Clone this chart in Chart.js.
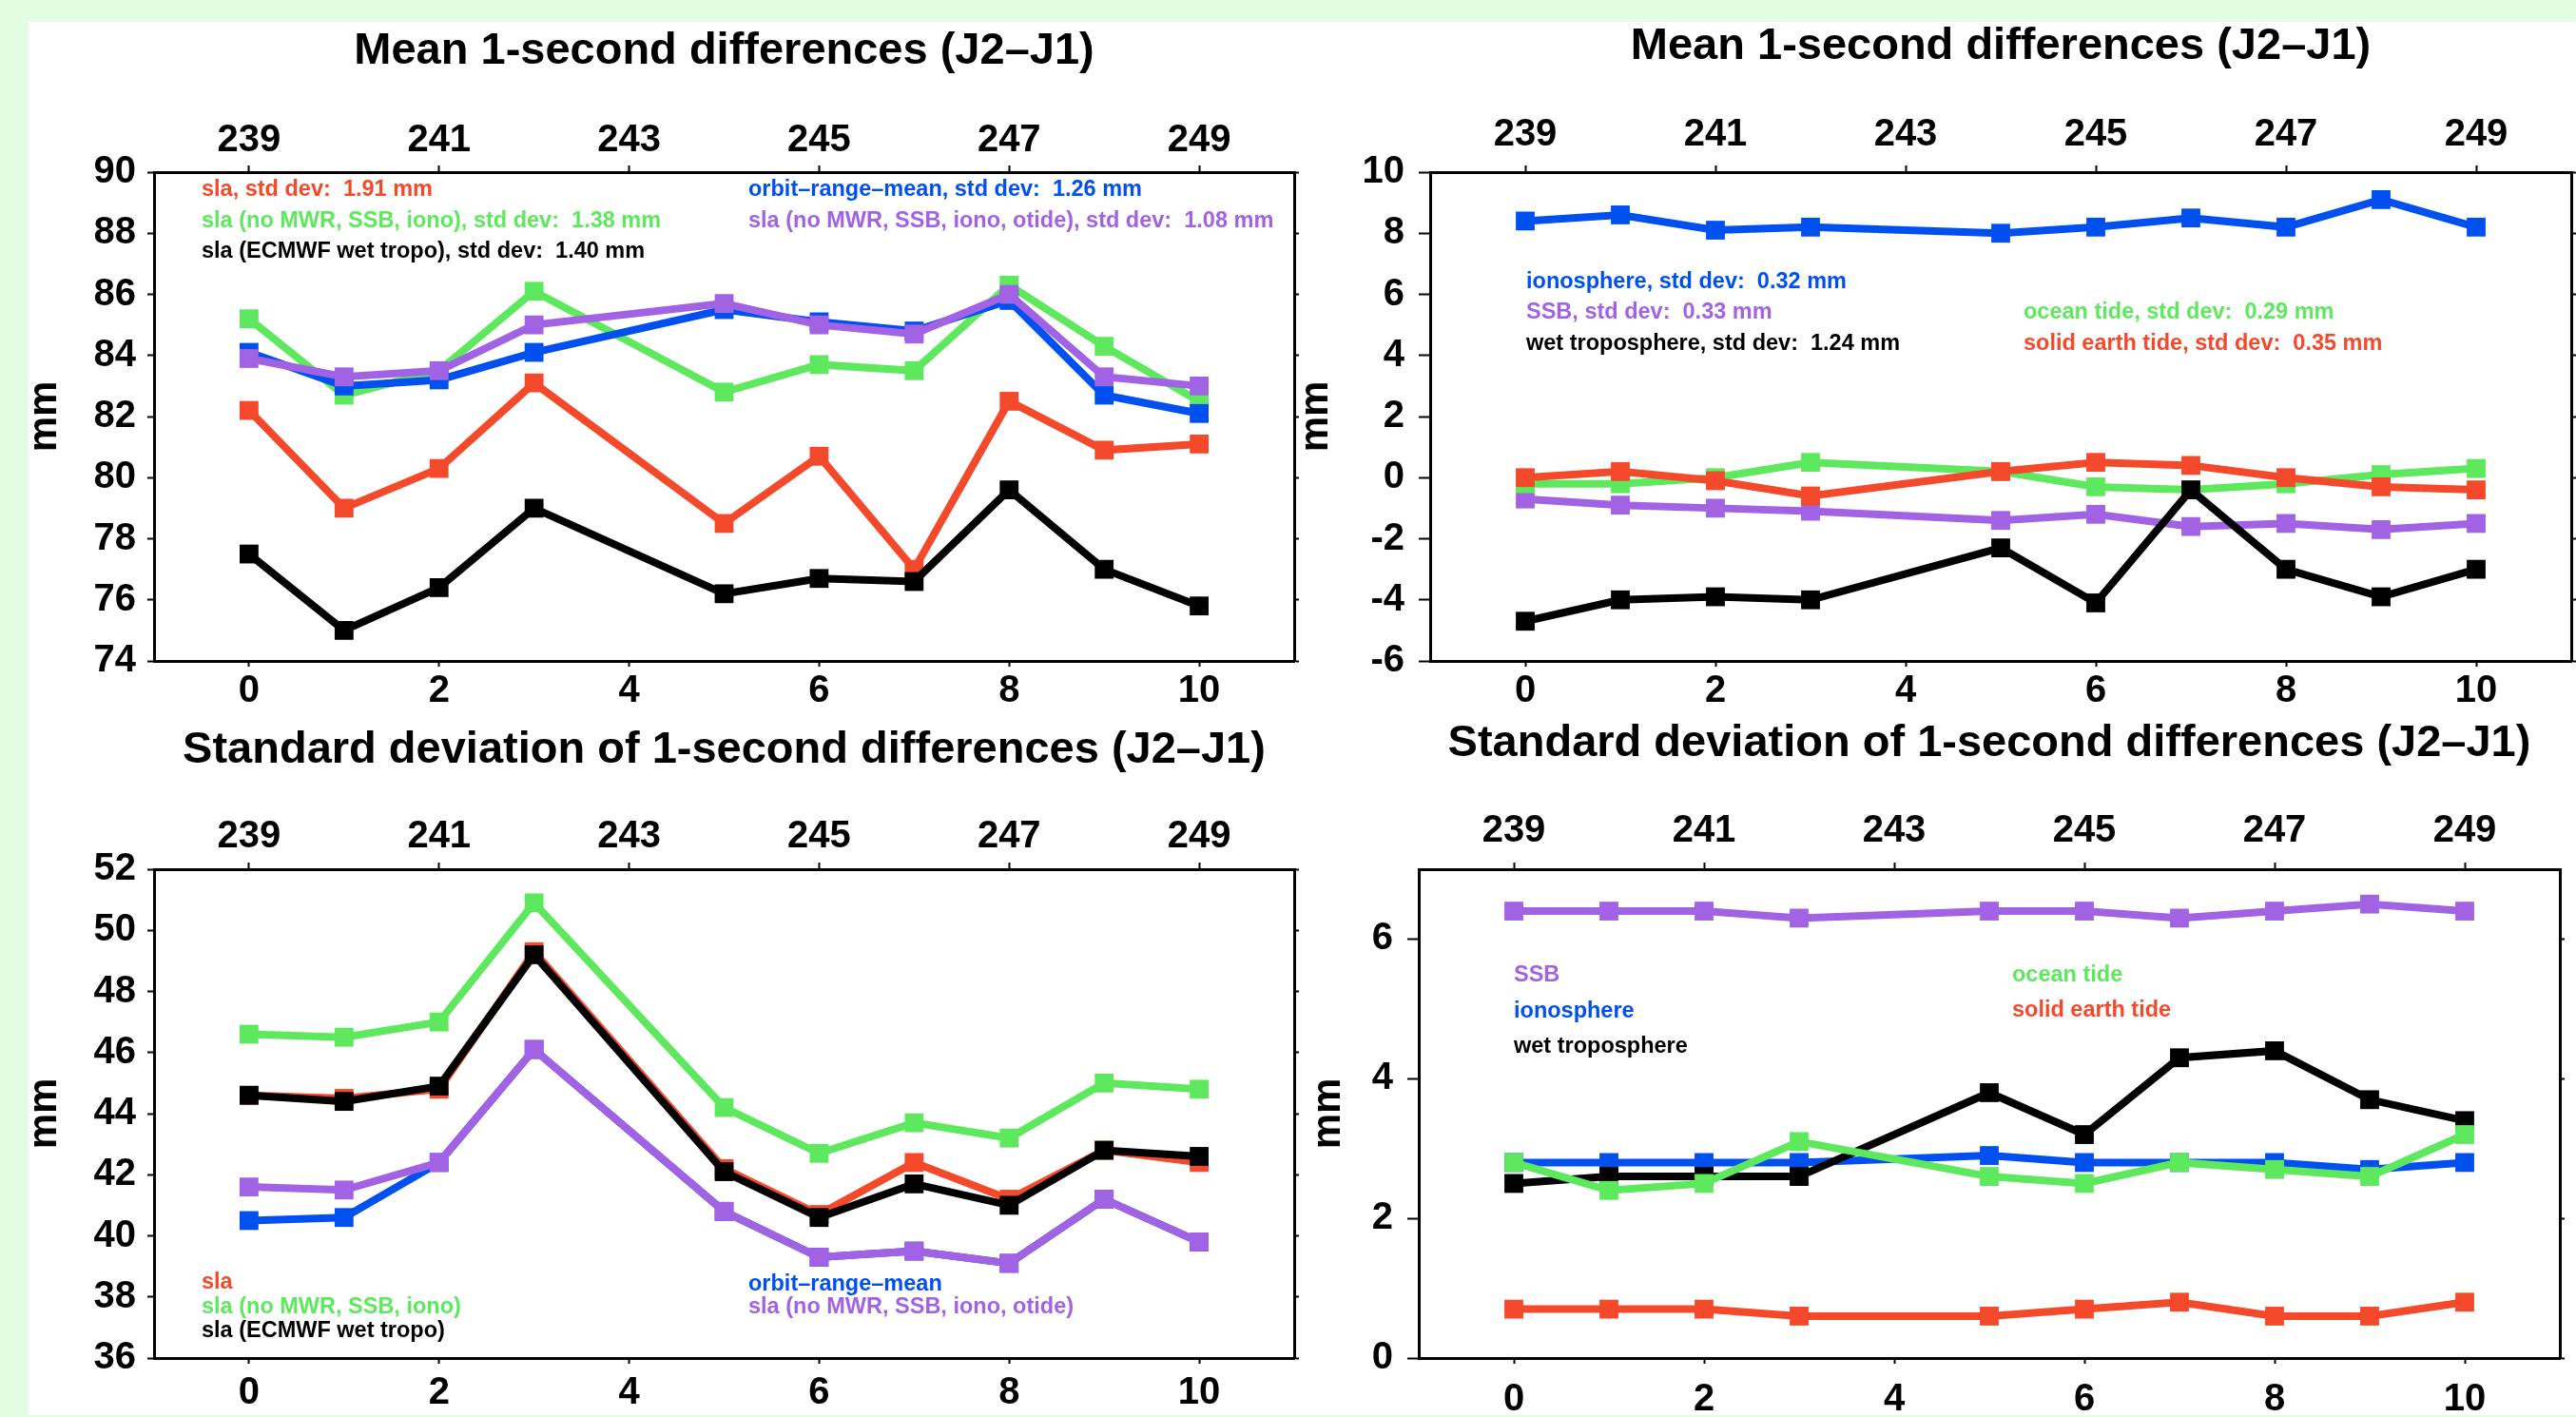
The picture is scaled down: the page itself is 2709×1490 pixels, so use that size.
<!DOCTYPE html>
<html>
<head>
<meta charset="utf-8">
<title>Mean and standard deviation of 1-second differences (J2–J1)</title>
<script src="https://cdn.jsdelivr.net/npm/chart.js@4.4.1/dist/chart.umd.min.js"></script>
<style>
  html, body { margin: 0; padding: 0; }
  body { width: 2709px; height: 1490px; background: #e2fde2; position: relative; overflow: hidden; }
  #sheet { position: absolute; left: 30px; top: 23px; width: 2679px; height: 1465px; background: #fff; }
  canvas { position: absolute; }
</style>
</head>
<body>
<div id="sheet"></div>
<canvas id="meanSla" width="1372" height="745" style="left:0px;top:0px"></canvas>
<canvas id="meanCorr" width="1347" height="745" style="left:1362px;top:0px"></canvas>
<canvas id="stdSla" width="1372" height="745" style="left:0px;top:745px"></canvas>
<canvas id="stdCorr" width="1347" height="745" style="left:1362px;top:745px"></canvas>
<script>
'use strict';

// x positions (cycle index, 243 missing) and the cycle labels of the top axis
const cycleIdx = [0, 1, 2, 3, 5, 6, 7, 8, 9, 10];
const xTickVals = [0, 2, 4, 6, 8, 10];
const cycleTickLabels = ['239', '241', '243', '245', '247', '249'];

// y ticks
const meanSlaTicks = [74, 76, 78, 80, 82, 84, 86, 88, 90];
const meanCorrTicks = [-6, -4, -2, 0, 2, 4, 6, 8, 10];
const stdSlaTicks = [36, 38, 40, 42, 44, 46, 48, 50, 52];
const stdCorrTicks = [0, 2, 4, 6];

// sla series names / std devs
const slaNames = ['sla', 'sla (no MWR, SSB, iono)', 'sla (ECMWF wet tropo)', 'orbit\u2013range\u2013mean', 'sla (no MWR, SSB, iono, otide)'];
const slaMeanStd = ['1.91', '1.38', '1.40', '1.26', '1.08'];

// mean of 1-second differences, mm
const meanSla = [82.2, 79.0, 80.3, 83.1, 78.5, 80.7, 77.0, 82.5, 80.9, 81.1];
const meanSlaNoMwr = [85.2, 82.7, 83.5, 86.1, 82.8, 83.7, 83.5, 86.3, 84.3, 82.5];
const meanSlaEcmwf = [77.5, 75.0, 76.4, 79.0, 76.2, 76.7, 76.6, 79.6, 77.0, 75.8];
const meanOrbit = [84.1, 83.0, 83.2, 84.1, 85.5, 85.1, 84.8, 85.8, 82.7, 82.1];
const meanSlaNoOtide = [83.9, 83.3, 83.5, 85.0, 85.7, 85.0, 84.7, 86.0, 83.3, 83.0];

// corrections, mean
const corrMeanNames = ['ionosphere', 'SSB', 'wet troposphere', 'ocean tide', 'solid earth tide'];
const corrMeanStd = ['0.32', '0.33', '1.24', '0.29', '0.35'];
const meanIono = [8.4, 8.6, 8.1, 8.2, 8.0, 8.2, 8.5, 8.2, 9.1, 8.2];
const meanSsb = [-0.7, -0.9, -1.0, -1.1, -1.4, -1.2, -1.6, -1.5, -1.7, -1.5];
const meanWet = [-4.7, -4.0, -3.9, -4.0, -2.3, -4.1, -0.4, -3.0, -3.9, -3.0];
const meanOcean = [-0.2, -0.2, 0.0, 0.5, 0.2, -0.3, -0.4, -0.2, 0.1, 0.3];
const meanSolid = [0.0, 0.2, -0.1, -0.6, 0.2, 0.5, 0.4, 0.0, -0.3, -0.4];

// standard deviation of 1-second differences, mm
const stdSla = [44.6, 44.5, 44.8, 49.3, 42.2, 40.7, 42.4, 41.2, 42.8, 42.4];
const stdSlaNoMwr = [46.6, 46.5, 47.0, 50.9, 44.2, 42.7, 43.7, 43.2, 45.0, 44.8];
const stdSlaEcmwf = [44.6, 44.4, 44.9, 49.2, 42.1, 40.6, 41.7, 41.0, 42.8, 42.6];
const stdOrbit = [40.5, 40.6, 42.4, 46.1, 40.8, 39.3, 39.5, 39.1, 41.2, 39.8];
const stdSlaNoOtide = [41.6, 41.5, 42.4, 46.1, 40.8, 39.3, 39.5, 39.1, 41.2, 39.8];

// corrections, std
const corrStdNames = ['SSB', 'ionosphere', 'wet troposphere', 'ocean tide', 'solid earth tide'];
const stdSsb = [6.4, 6.4, 6.4, 6.3, 6.4, 6.4, 6.3, 6.4, 6.5, 6.4];
const stdIono = [2.8, 2.8, 2.8, 2.8, 2.9, 2.8, 2.8, 2.8, 2.7, 2.8];
const stdWet = [2.5, 2.6, 2.6, 2.6, 3.8, 3.2, 4.3, 4.4, 3.7, 3.4];
const stdOcean = [2.8, 2.4, 2.5, 3.1, 2.6, 2.5, 2.8, 2.7, 2.6, 3.2];
const stdSolid = [0.7, 0.7, 0.7, 0.6, 0.6, 0.7, 0.8, 0.6, 0.6, 0.8];

const FONT = '"Liberation Sans", Arial, Helvetica, sans-serif';
const RED = '#f4492a';
const GREEN = '#5ee85e';
const BLUE = '#0050f0';
const PURPLE = '#a262e4';
const BLACK = '#000000';

function withStd(names, stds) {
    return names.map((n, i) => n + ', std dev:  ' + stds[i] + ' mm');
}

// title and in-plot labels
const panelText = {
    id: 'panelText',
    afterDraw(chart, args, opts) {
        const c = chart.ctx;
        const a = chart.chartArea;
        c.save();
        c.fillStyle = '#000';
        c.font = 'bold 47px ' + FONT;
        c.textAlign = 'center';
        c.textBaseline = 'alphabetic';
        c.fillText(opts.title, (a.left + a.right) / 2, opts.titleY);
        c.font = 'bold 23.5px ' + FONT;
        c.textAlign = 'left';
        c.textBaseline = 'middle';
        opts.labels.forEach((t, i) => {
            c.fillStyle = opts.colors[i];
            c.fillText(t, a.left + opts.pos[i][0], a.top + opts.pos[i][1]);
        });
        c.restore();
    }
};

function tickFont() {
    return { family: FONT, size: 40, weight: 'bold' };
}

function makeChart(id, p) {
    const canvas = document.getElementById(id);
    const W = canvas.width, H = canvas.height;
    const g = p.box;

    const datasets = p.series.map((s) => ({
        data: cycleIdx.map((x, k) => ({ x: x, y: s.values[k] })),
        borderColor: s.color,
        backgroundColor: s.color,
        borderWidth: 8,
        tension: 0,
        fill: false,
        pointStyle: 'rect',
        pointRadius: 14,
        pointHoverRadius: 14,
        pointBorderWidth: 0,
        pointBackgroundColor: s.color,
        order: s.order
    }));

    const border = { display: true, color: '#000', width: 3 };

    return new Chart(canvas.getContext('2d'), {
        type: 'line',
        data: { datasets: datasets },
        plugins: [panelText],
        options: {
            responsive: false,
            animation: false,
            devicePixelRatio: 1,
            layout: { padding: 0, autoPadding: false },
            events: [],
            plugins: {
                legend: { display: false },
                title: { display: false },
                tooltip: { enabled: false },
                panelText: p.text
            },
            scales: {
                x: {
                    type: 'linear', position: 'bottom', min: -1, max: 11,
                    afterBuildTicks: (s) => { s.ticks = xTickVals.map(v => ({ value: v })); },
                    afterFit: (s) => { s.height = H - g.bottom; },
                    ticks: { font: tickFont(), color: '#000', padding: p.pad.bottom, maxRotation: 0, autoSkip: false, callback: v => String(v) },
                    grid: { drawOnChartArea: false, drawTicks: true, tickLength: 6, tickWidth: 2, tickColor: '#000' },
                    border: border
                },
                x2: {
                    type: 'linear', position: 'top', min: -1, max: 11,
                    afterBuildTicks: (s) => { s.ticks = xTickVals.map(v => ({ value: v })); },
                    afterFit: (s) => { s.height = g.top; },
                    ticks: { font: tickFont(), color: '#000', padding: p.pad.top, maxRotation: 0, autoSkip: false,
                             callback: v => cycleTickLabels[xTickVals.indexOf(v)] },
                    grid: { drawOnChartArea: false, drawTicks: true, tickLength: 7, tickWidth: 2, tickColor: '#000' },
                    border: border
                },
                y: {
                    type: 'linear', position: 'left', min: p.yTicks[0], max: p.yMax,
                    afterBuildTicks: (s) => { s.ticks = p.yTicks.map(v => ({ value: v })); },
                    afterFit: (s) => { s.width = g.left; },
                    ticks: { font: tickFont(), color: '#000', padding: p.pad.left, autoSkip: false, callback: v => String(v) },
                    grid: { drawOnChartArea: false, drawTicks: true, tickLength: p.yTickLen, tickWidth: 2, tickColor: '#000' },
                    border: border,
                    title: { display: true, text: 'mm', color: '#000',
                             font: { family: FONT, size: 42, weight: 'bold', lineHeight: 1 },
                             padding: { top: p.pad.title, bottom: 0 } }
                },
                y2: {
                    type: 'linear', position: 'right', min: p.yTicks[0], max: p.yMax,
                    afterBuildTicks: (s) => { s.ticks = p.yTicks.map(v => ({ value: v })); },
                    afterFit: (s) => { s.width = W - g.right; },
                    ticks: { display: false },
                    grid: { drawOnChartArea: false, drawTicks: true, tickLength: 5, tickWidth: 2, tickColor: '#000' },
                    border: border
                }
            }
        }
    });
}

// top left: mean, sla
makeChart('meanSla', {
    box: { left: 162, right: 1361, top: 181, bottom: 695 },
    pad: { left: 12, top: 2, bottom: 2, title: 26 },
    yTickLen: 7,
    yTicks: meanSlaTicks, yMax: 90,
    series: [
        { values: meanSla, color: RED, order: 4 },
        { values: meanSlaNoMwr, color: GREEN, order: 3 },
        { values: meanSlaEcmwf, color: BLACK, order: 2 },
        { values: meanOrbit, color: BLUE, order: 1 },
        { values: meanSlaNoOtide, color: PURPLE, order: 0 }
    ],
    text: {
        title: 'Mean 1-second differences (J2\u2013J1)', titleY: 67,
        labels: withStd(slaNames, slaMeanStd),
        colors: [RED, GREEN, BLACK, BLUE, PURPLE],
        pos: [[50, 19], [50, 51.5], [50, 84], [625, 19], [625, 51.5]]
    }
});

// top right: mean, corrections
makeChart('meanCorr', {
    box: { left: 142, right: 1342, top: 181, bottom: 695 },
    pad: { left: 15, top: 8, bottom: 2, title: 1 },
    yTickLen: 12,
    yTicks: meanCorrTicks, yMax: 10,
    series: [
        { values: meanIono, color: BLUE, order: 4 },
        { values: meanSsb, color: PURPLE, order: 3 },
        { values: meanWet, color: BLACK, order: 0 },
        { values: meanOcean, color: GREEN, order: 2 },
        { values: meanSolid, color: RED, order: 1 }
    ],
    text: {
        title: 'Mean 1-second differences (J2\u2013J1)', titleY: 62,
        labels: withStd(corrMeanNames, corrMeanStd),
        colors: [BLUE, PURPLE, BLACK, GREEN, RED],
        pos: [[101, 116], [101, 148], [101, 180.5], [624, 148], [624, 180.5]]
    }
});

// bottom left: std, sla
makeChart('stdSla', {
    box: { left: 162, right: 1361, top: 169, bottom: 683 },
    pad: { left: 12, top: 3, bottom: 7, title: 26 },
    yTickLen: 7,
    yTicks: stdSlaTicks, yMax: 52,
    series: [
        { values: stdSla, color: RED, order: 4 },
        { values: stdSlaNoMwr, color: GREEN, order: 3 },
        { values: stdSlaEcmwf, color: BLACK, order: 2 },
        { values: stdOrbit, color: BLUE, order: 1 },
        { values: stdSlaNoOtide, color: PURPLE, order: 0 }
    ],
    text: {
        title: 'Standard deviation of 1-second differences (J2\u2013J1)', titleY: 56.5,
        labels: slaNames,
        colors: [RED, GREEN, BLACK, BLUE, PURPLE],
        pos: [[50, 435], [50, 461], [50, 486], [625, 437], [625, 461]]
    }
});

// bottom right: std, corrections
makeChart('stdCorr', {
    box: { left: 130, right: 1330, top: 169, bottom: 683 },
    pad: { left: 15, top: 9, bottom: 14, title: 14 },
    yTickLen: 12,
    yTicks: stdCorrTicks, yMax: 7,
    series: [
        { values: stdSsb, color: PURPLE, order: 4 },
        { values: stdIono, color: BLUE, order: 3 },
        { values: stdWet, color: BLACK, order: 2 },
        { values: stdOcean, color: GREEN, order: 1 },
        { values: stdSolid, color: RED, order: 0 }
    ],
    text: {
        title: 'Standard deviation of 1-second differences (J2\u2013J1)', titleY: 50,
        labels: corrStdNames,
        colors: [PURPLE, BLUE, BLACK, GREEN, RED],
        pos: [[100, 111.5], [100, 150], [100, 187], [624, 111.5], [624, 149]]
    }
});
</script>
</body>
</html>
